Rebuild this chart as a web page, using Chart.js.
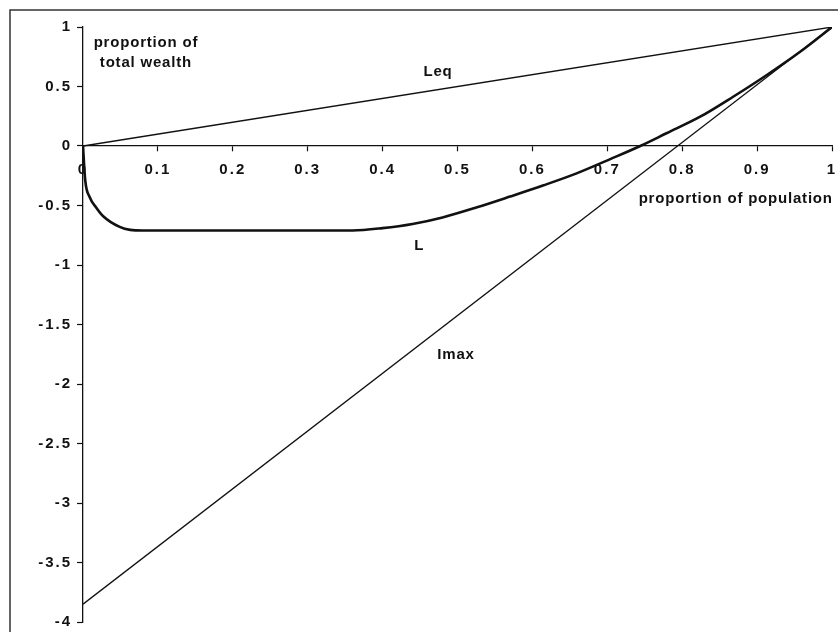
<!DOCTYPE html>
<html>
<head>
<meta charset="utf-8">
<script src="https://cdn.jsdelivr.net/npm/chart.js@4"></script>
<style>
html,body{margin:0;padding:0;background:#fff;}
#wrap{width:838px;height:632px;position:relative;}
</style>
</head>
<body>
<div id="wrap"><canvas id="c" width="838" height="632"></canvas></div>
<script>
// ---- data ----
const lX = [0, 0.003, 0.009, 0.018, 0.027, 0.049, 0.063, 0.08, 0.2, 0.36, 0.40, 0.44, 0.48, 0.526, 0.570, 0.615, 0.659, 0.704, 0.744, 0.779, 0.824, 0.868, 0.913, 0.957, 1.0];
const lY = [0, -0.29, -0.43, -0.52, -0.59, -0.68, -0.705, -0.71, -0.71, -0.71, -0.69, -0.655, -0.60, -0.515, -0.425, -0.33, -0.23, -0.11, 0, 0.107, 0.246, 0.414, 0.597, 0.79, 1.0];
const leqX = [0, 1];
const leqY = [0, 1];
const imaxX = [0, 1];
const imaxY = [-3.85, 1];
const xTicks = [0, 0.1, 0.2, 0.3, 0.4, 0.5, 0.6, 0.7, 0.8, 0.9, 1];
const xTickLabels = ["0", "0.1", "0.2", "0.3", "0.4", "0.5", "0.6", "0.7", "0.8", "0.9", "1"];
const yTicks = [1, 0.5, 0, -0.5, -1, -1.5, -2, -2.5, -3, -3.5, -4];
const yTickLabels = ["1", "0.5", "0", "-0.5", "-1", "-1.5", "-2", "-2.5", "-3", "-3.5", "-4"];
const annotations = [
  {text: "proportion of", x: 0.084, y: 0.866, align: "center"},
  {text: "total wealth", x: 0.084, y: 0.70, align: "center"},
  {text: "Leq", x: 0.474, y: 0.62, align: "center"},
  {text: "L", x: 0.449, y: -0.84, align: "center"},
  {text: "Imax", x: 0.498, y: -1.756, align: "center"},
  {text: "proportion of population", x: 1.0, y: -0.445, align: "right"}
];

const toPts = (xs, ys) => xs.map((x, i) => ({x: x, y: ys[i]}));
const INK = '#111';
const FAMILY = '"Liberation Sans", Arial, sans-serif';
const FONT = 'bold 15px ' + FAMILY;

const framePlugin = {
  id: 'frame',
  beforeDraw(chart) {
    const ctx = chart.ctx;
    ctx.save();
    ctx.strokeStyle = '#333';
    ctx.lineWidth = 1.5;
    ctx.beginPath();
    ctx.moveTo(838, 10);
    ctx.lineTo(10, 10);
    ctx.lineTo(10, 632);
    ctx.stroke();
    ctx.restore();
    ctx.letterSpacing = '2px';
  },
  afterDraw(chart) {
    const ctx = chart.ctx;
    const xs = chart.scales.x, ys = chart.scales.y;
    ctx.save();
    ctx.letterSpacing = '0.8px';
    ctx.font = FONT;
    ctx.fillStyle = INK;
    ctx.textBaseline = 'middle';
    annotations.forEach(a => {
      ctx.textAlign = a.align;
      ctx.fillText(a.text, xs.getPixelForValue(a.x) + (a.align === 'right' ? 0.8 : 0), ys.getPixelForValue(a.y));
    });
    ctx.restore();
  }
};

new Chart(document.getElementById('c'), {
  type: 'scatter',
  data: {
    datasets: [
      {label: 'L', data: toPts(lX, lY), showLine: true, borderColor: INK, borderWidth: 2.6, pointRadius: 0, cubicInterpolationMode: 'monotone'},
      {label: 'Leq', data: toPts(leqX, leqY), showLine: true, borderColor: INK, borderWidth: 1.3, pointRadius: 0},
      {label: 'Imax', data: toPts(imaxX, imaxY), showLine: true, borderColor: INK, borderWidth: 1.3, pointRadius: 0}
    ]
  },
  options: {
    responsive: false,
    animation: false,
    devicePixelRatio: 1,
    layout: {padding: {top: 27, bottom: 10, left: 0, right: 6}},
    plugins: {legend: {display: false}, tooltip: {enabled: false}},
    scales: {
      x: {
        type: 'linear',
        min: 0, max: 1,
        position: {y: 0},
        afterBuildTicks: s => { s.ticks = xTicks.map(v => ({value: v})); },
        afterFit: s => { s.paddingLeft = 0; s.paddingRight = 0; },
        ticks: {
          callback: (v) => xTickLabels[xTicks.indexOf(v)],
          color: INK, font: {family: FAMILY, size: 15, weight: 'bold'},
          padding: 10, maxRotation: 0, autoSkip: false
        },
        grid: {drawOnChartArea: false, tickLength: 5, color: INK, tickWidth: 1.2},
        border: {color: INK, width: 1.3}
      },
      y: {
        type: 'linear',
        min: -4, max: 1,
        position: 'left',
        afterBuildTicks: s => { s.ticks = yTicks.map(v => ({value: v})); },
        afterFit: s => { s.width = 83; s.paddingTop = 0; s.paddingBottom = 0; },
        ticks: {
          callback: (v) => yTickLabels[yTicks.indexOf(v)],
          color: INK, font: {family: FAMILY, size: 15, weight: 'bold'},
          padding: 5, autoSkip: false
        },
        grid: {drawOnChartArea: false, tickLength: 6, color: INK, tickWidth: 1.2},
        border: {color: INK, width: 1.3}
      }
    }
  },
  plugins: [framePlugin]
});
</script>
</body>
</html>
